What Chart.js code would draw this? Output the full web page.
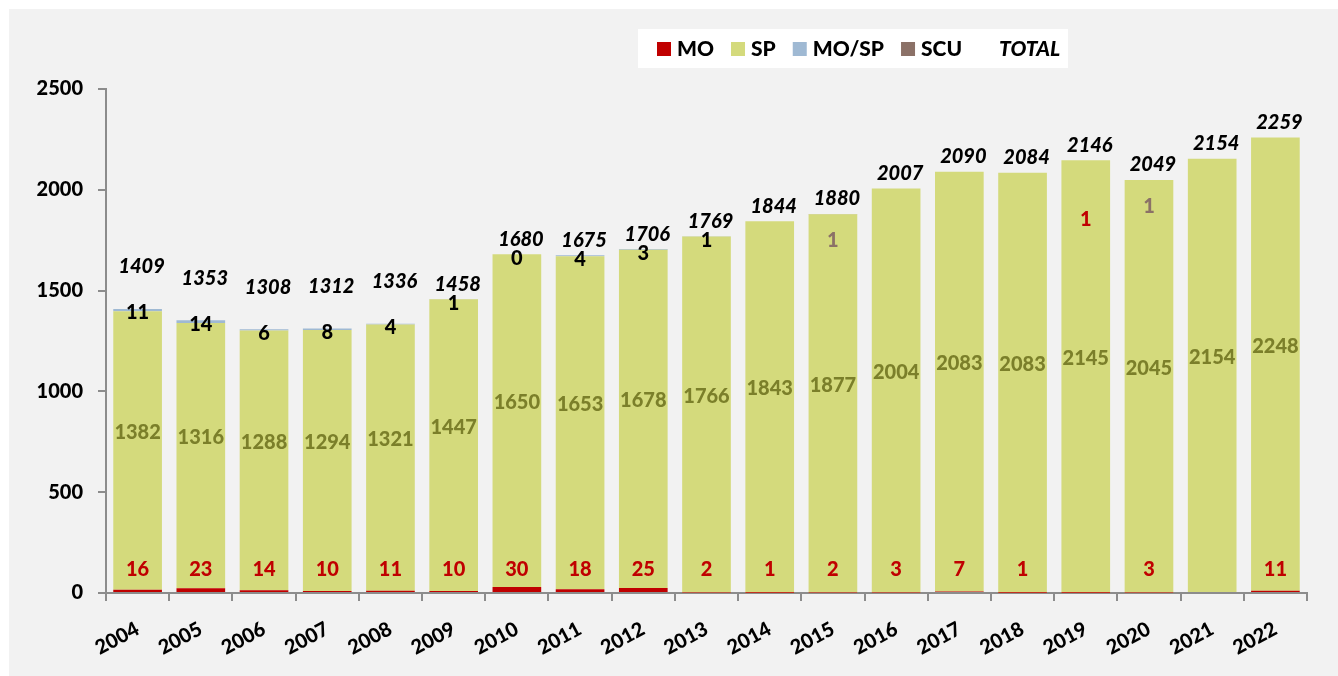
<!DOCTYPE html>
<html>
<head>
<meta charset="utf-8">
<script src="https://cdn.jsdelivr.net/npm/chart.js@4.4.1/dist/chart.umd.min.js"></script>
<style>
  html, body { margin: 0; padding: 0; background: #fff; }
  #wrap { position: absolute; left: 9px; top: 9px; width: 1329px; height: 667px; background: #f2f2f2; }
  canvas { display: block; }
</style>
</head>
<body>
<div id="wrap"><canvas id="chart" width="1329" height="667"></canvas></div>
<script>
const years = [2004, 2005, 2006, 2007, 2008, 2009, 2010, 2011, 2012, 2013, 2014, 2015, 2016, 2017, 2018, 2019, 2020, 2021, 2022];
const moValues = [16, 23, 14, 10, 11, 10, 30, 18, 25, 2, 1, 2, 3, 7, 1, 1, 3, null, 11];
const spValues = [1382, 1316, 1288, 1294, 1321, 1447, 1650, 1653, 1678, 1766, 1843, 1877, 2004, 2083, 2083, 2145, 2045, 2154, 2248];
const mospValues = [11, 14, 6, 8, 4, 1, 0, 4, 3, 1, null, null, null, null, null, null, null, null, null];
const scuValues = [null, null, null, null, null, null, null, null, null, null, null, 1, null, null, null, null, 1, null, null];
const totals = [1409, 1353, 1308, 1312, 1336, 1458, 1680, 1675, 1706, 1769, 1844, 1880, 2007, 2090, 2084, 2146, 2049, 2154, 2259];
const yTicks = [0, 500, 1000, 1500, 2000, 2500];

// the 2019 MO label was dragged up into the bar in the original
const movedMoLabel = { 2019: 1850 };

const FONT = "Lato, 'Open Sans', sans-serif";
const AXIS = "#8c8c8c";
const colors = { mo: "#c00000", sp: "#d4da7c", mosp: "#9fb9d3", scu: "#8b7167" };

const labelPlugin = {
  id: "barLabels",
  afterDatasetsDraw(chart) {
    const ctx = chart.ctx;
    const yScale = chart.scales.y;
    ctx.save();
    ctx.textAlign = "center";
    ctx.textBaseline = "middle";
    ctx.font = "900 20px " + FONT;

    chart.data.datasets.forEach((ds, di) => {
      const meta = chart.getDatasetMeta(di);
      meta.data.forEach((bar, i) => {
        const v = ds.data[i];
        if (v === null || v === undefined) return;
        let y;
        if (ds.label === "MO") {
          ctx.fillStyle = "#c00000";
          y = movedMoLabel[years[i]] ? yScale.getPixelForValue(movedMoLabel[years[i]]) : bar.base - 22;
        } else if (ds.label === "SP") {
          ctx.fillStyle = "#7b7f2a";
          y = (bar.y + bar.base) / 2 - 18;
        } else if (ds.label === "MO/SP") {
          ctx.fillStyle = "#000";
          y = bar.y + 4;
        } else {
          ctx.fillStyle = "#8b7167";
          y = bar.y + 27;
        }
        ctx.fillText(String(v), bar.x, y);
      });
    });

    // totals, italic above each bar
    ctx.font = "italic 900 20px " + FONT;
    ctx.fillStyle = "#000";
    const xMeta = chart.getDatasetMeta(1);
    totals.forEach((t, i) => {
      const lift = mospValues[i] !== null && mospValues[i] >= 4 && i < 6 ? 42 : 15;
      ctx.fillText(String(t), xMeta.data[i].x + 4, yScale.getPixelForValue(t) - lift);
    });
    ctx.restore();
  }
};

const legendPlugin = {
  id: "boxLegend",
  afterDraw(chart) {
    const ctx = chart.ctx;
    ctx.save();
    ctx.fillStyle = "#fff";
    ctx.fillRect(629, 20, 430, 39);
    ctx.textBaseline = "middle";
    let x = 648;
    const cy = 40;
    const entries = chart.data.datasets.map((d) => ({ text: d.label, color: d.backgroundColor }));
    entries.push({ text: "TOTAL", color: null });
    entries.forEach((e) => {
      if (e.color) {
        ctx.fillStyle = e.color;
        ctx.fillRect(x, cy - 7, 14, 14);
        ctx.font = "900 21px " + FONT;
      } else {
        ctx.font = "italic 900 21px " + FONT;
      }
      ctx.fillStyle = "#000";
      ctx.fillText(e.text, x + 20, cy);
      x += 20 + ctx.measureText(e.text).width + 17;
    });
    ctx.restore();
  }
};

new Chart(document.getElementById("chart"), {
  type: "bar",
  data: {
    labels: years.map(String),
    datasets: [
      { label: "MO", data: moValues, backgroundColor: colors.mo },
      { label: "SP", data: spValues, backgroundColor: colors.sp },
      { label: "MO/SP", data: mospValues, backgroundColor: colors.mosp },
      { label: "SCU", data: scuValues, backgroundColor: colors.scu },
    ],
  },
  options: {
    responsive: false,
    animation: false,
    layout: { padding: { top: 80, right: 31, left: 0, bottom: 0 } },
    datasets: { bar: { barPercentage: 0.77, categoryPercentage: 1, borderWidth: 0 } },
    scales: {
      x: {
        stacked: true,
        grid: { drawOnChartArea: false, offset: true, tickLength: 8, color: AXIS, lineWidth: 2 },
        border: { color: AXIS, width: 2 },
        ticks: { minRotation: 28, maxRotation: 28, color: "#000", padding: 16, font: { family: FONT, weight: "900", size: 20 } },
        afterFit(s) { s.height = 83; },
      },
      y: {
        stacked: true,
        min: 0,
        max: 2500,
        afterBuildTicks(s) { s.ticks = yTicks.map((v) => ({ value: v })); },
        grid: { drawOnChartArea: false, tickLength: 8, color: AXIS, lineWidth: 2 },
        border: { color: AXIS, width: 2 },
        ticks: { color: "#000", padding: 15, callback: (v) => String(v), font: { family: FONT, weight: "900", size: 20 } },
        afterFit(s) { s.width = 97; },
      },
    },
    plugins: { legend: { display: false }, tooltip: { enabled: false } },
  },
  plugins: [labelPlugin, legendPlugin],
});
</script>
</body>
</html>
